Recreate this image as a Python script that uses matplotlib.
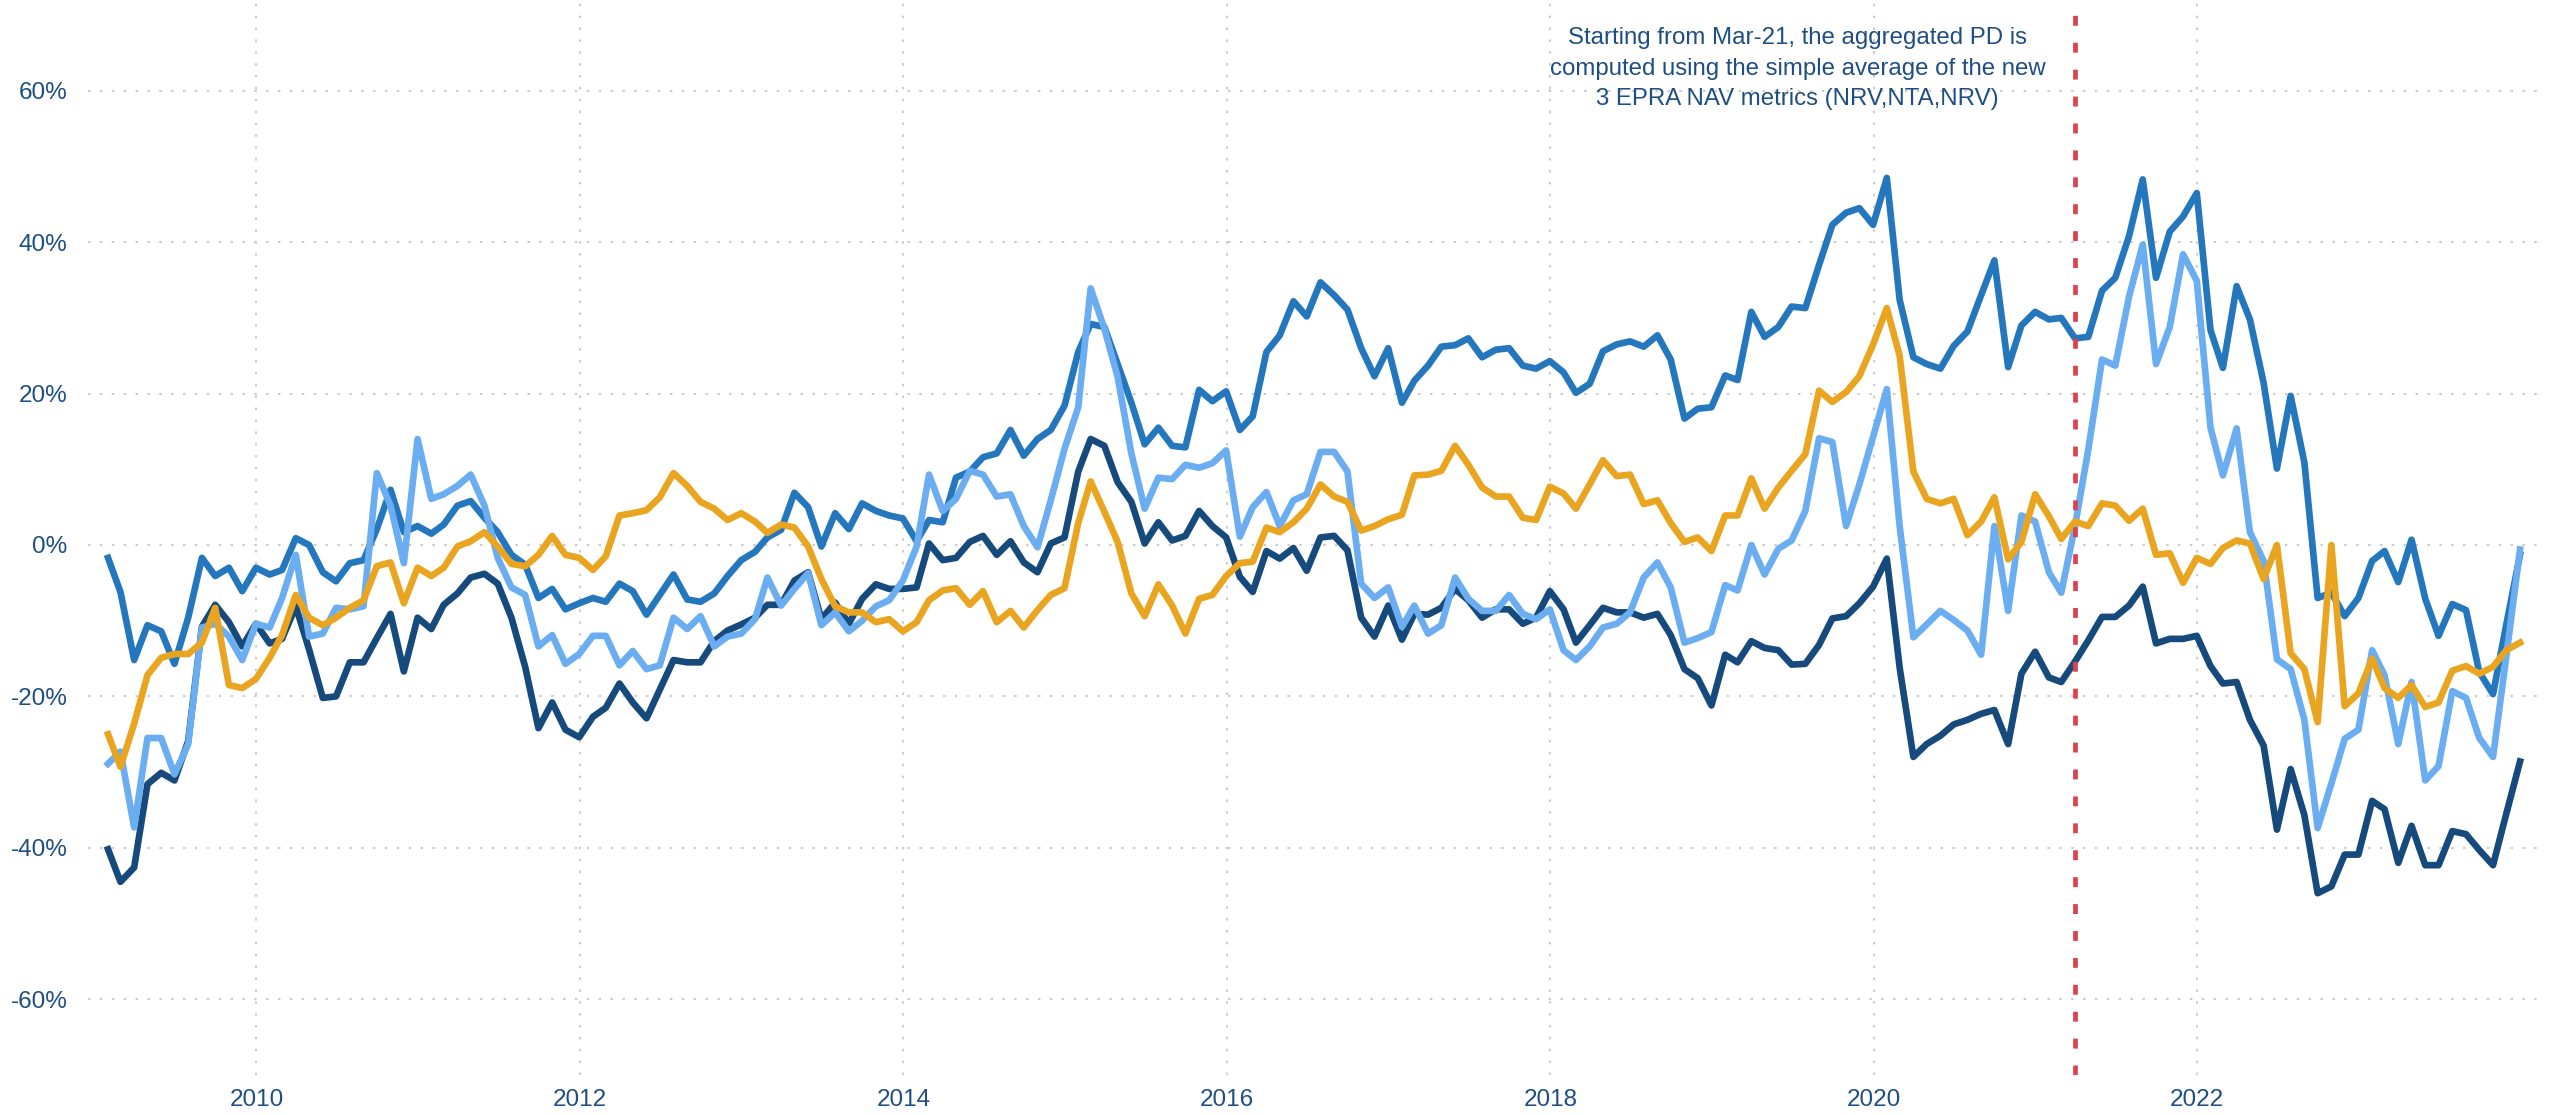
import numpy as np
import pandas as pd
import matplotlib
matplotlib.use('Agg')
import matplotlib.pyplot as plt
import matplotlib.dates as mdates
from matplotlib.ticker import FuncFormatter

# datas mensais (fim de mes) jan-2009 ate dez-2023
datas = pd.date_range('2009-01-31', periods=180, freq='ME')

# premio/desconto agregado (%) - 4 series
serie_azul = [-1.7, -6.2, -15.2, -10.6, -11.4, -15.7, -9.6, -1.7, -4.1, -3.0,
              -6.1, -3.0, -3.9, -3.3, 0.9, 0.0, -3.6, -4.8, -2.4, -2.0,
              2.1, 7.3, 1.7, 2.5, 1.5, 2.7, 5.2, 5.8, 3.6, 1.7, -1.3,
              -2.6, -7.0, -5.8, -8.5, -7.7, -7.0, -7.5, -5.1, -6.1, -9.2,
              -6.6, -3.9, -7.2, -7.5, -6.4, -4.1, -2.0, -0.9, 1.0, 2.0,
              6.9, 5.0, -0.2, 4.2, 2.1, 5.5, 4.5, 3.9, 3.5, 0.5, 3.3,
              3.0, 8.9, 9.7, 11.6, 12.1, 15.2, 11.8, 14.0, 15.2, 18.4,
              25.5, 29.2, 28.8, 23.9, 18.8, 13.3, 15.5, 13.1, 12.9, 20.5,
              19.0, 20.3, 15.2, 17.0, 25.5, 27.7, 32.2, 30.2, 34.7, 33.0, 31.1,
              26.0, 22.3, 26.0, 18.8, 21.7, 23.7, 26.2, 26.4, 27.3, 24.8,
              25.8, 26.0, 23.7, 23.3, 24.3, 22.8, 20.1, 21.3, 25.6, 26.5,
              26.9, 26.2, 27.7, 24.5, 16.7, 18.0, 18.2, 22.4, 21.8, 30.8, 27.5, 28.8,
              31.5, 31.3, 37.0, 42.3, 43.9, 44.5, 42.3, 48.5, 32.4, 24.8,
              23.9, 23.3, 26.3, 28.2, 33.0, 37.6, 23.5, 29.0, 30.8, 29.8,
              30.0, 27.3, 27.5, 33.6, 35.3, 40.8, 48.3, 35.3, 41.4, 43.4, 46.5,
              28.4, 23.4, 34.2, 29.8, 21.4, 10.1, 19.7, 10.9, -7.0, -6.3,
              -9.4, -7.0, -2.1, -0.8, -4.9, 0.7, -7.1, -12.0, -7.8, -8.6,
              -16.8, -19.7, -10.5, -1.3]

serie_clara = [-28.9, -27.3, -37.3, -25.5, -25.5, -30.3, -26.3, -10.9, -10.4, -12.1,
               -15.2, -10.4, -10.9, -7.0, -1.3, -12.1, -11.7, -8.3, -8.5, -8.1,
               9.5, 5.2, -2.4, 14.0, 6.1, 6.7, 7.8, 9.3, 5.2, -1.7, -5.6,
               -6.6, -13.4, -11.9, -15.7, -14.4, -12.0, -12.0, -15.9, -14.0, -16.4,
               -15.9, -9.6, -11.1, -9.4, -13.4, -12.1, -11.7, -9.8, -4.3, -8.0,
               -5.8, -3.7, -10.6, -8.9, -11.4, -10.0, -8.1, -7.3, -4.7, -0.2, 9.3,
               4.5, 6.1, 9.8, 9.3, 6.4, 6.7, 2.5, -0.3, 5.9, 12.7,
               18.2, 33.9, 28.6, 22.2, 12.1, 4.8, 8.9, 8.7, 10.6, 10.2,
               10.8, 12.5, 1.1, 5.0, 7.0, 2.5, 5.9, 6.7, 12.3, 12.3, 9.7,
               -5.1, -7.0, -5.6, -10.8, -8.0, -11.7, -10.6, -4.3, -7.1, -8.7,
               -8.7, -6.6, -9.1, -9.8, -8.5, -13.9, -15.2, -13.4, -10.9, -10.4,
               -8.9, -4.3, -2.3, -5.6, -12.9, -12.3, -11.5, -5.3, -6.0, 0.0, -3.9, -0.5,
               0.6, 4.5, 14.1, 13.6, 2.5, 8.0, 14.3, 20.6, 2.5, -12.2,
               -10.5, -8.7, -9.9, -11.3, -14.5, 2.5, -8.7, 3.9, 3.1, -3.6,
               -6.3, 2.5, 12.6, 24.5, 23.7, 32.8, 39.7, 23.9, 28.8, 38.4, 34.9,
               15.5, 9.2, 15.4, 1.7, -2.1, -15.1, -16.4, -23.1, -37.4, -31.5,
               -25.6, -24.4, -13.9, -17.2, -26.3, -18.1, -31.1, -29.2, -19.3, -20.2,
               -25.5, -28.0, -14.7, -0.6]

serie_escura = [-40.2, -44.5, -42.6, -31.6, -30.1, -31.1, -25.9, -10.8, -7.9, -10.2,
                -13.4, -10.4, -13.0, -12.4, -8.1, -13.8, -20.2, -20.0, -15.5, -15.5,
                -12.3, -9.1, -16.7, -9.6, -11.1, -7.9, -6.4, -4.3, -3.8, -5.1, -9.6,
                -16.1, -24.2, -20.8, -24.4, -25.4, -22.7, -21.5, -18.3, -20.8, -22.9,
                -19.1, -15.2, -15.5, -15.5, -12.7, -11.3, -10.5, -9.6, -7.9, -7.9,
                -4.7, -3.6, -9.8, -7.6, -10.4, -7.1, -5.2, -5.8, -5.8, -5.6, 0.2,
                -2.0, -1.7, 0.4, 1.2, -1.3, 0.5, -2.3, -3.6, 0.2, 1.0,
                9.7, 14.0, 13.1, 8.3, 5.7, 0.2, 3.0, 0.6, 1.2, 4.5,
                2.5, 1.0, -4.2, -6.2, -0.8, -1.8, -0.4, -3.4, 1.0, 1.2, -0.7,
                -9.6, -12.1, -8.0, -12.5, -9.1, -9.2, -8.3, -5.8, -7.3, -9.6,
                -8.5, -8.5, -10.4, -9.6, -6.1, -8.5, -12.9, -10.6, -8.3, -8.9,
                -8.9, -9.6, -9.1, -11.9, -16.4, -17.6, -21.2, -14.5, -15.5, -12.7, -13.6, -13.9,
                -15.8, -15.7, -13.2, -9.7, -9.4, -7.7, -5.5, -1.8, -16.2, -28.0,
                -26.3, -25.2, -23.7, -23.1, -22.3, -21.8, -26.3, -17.0, -14.1, -17.5,
                -18.1, -15.4, -12.6, -9.5, -9.5, -8.0, -5.5, -13.0, -12.4, -12.4, -12.0,
                -16.0, -18.3, -18.1, -23.1, -26.5, -37.6, -29.6, -35.7, -46.0, -45.1,
                -40.9, -40.9, -33.8, -34.9, -42.0, -37.1, -42.3, -42.3, -37.8, -38.2,
                -40.3, -42.3, -35.5, -28.6]

serie_laranja = [-25.0, -29.3, -23.6, -17.2, -14.9, -14.4, -14.4, -12.9, -8.3, -18.5,
                 -18.9, -17.7, -14.9, -11.9, -6.6, -9.6, -10.6, -9.6, -8.3, -7.3,
                 -2.8, -2.3, -7.7, -3.0, -4.1, -3.0, -0.2, 0.5, 1.7, -0.2, -2.5,
                 -2.8, -1.3, 1.2, -1.3, -1.7, -3.3, -1.5, 3.9, 4.2, 4.6,
                 6.3, 9.5, 7.8, 5.7, 4.8, 3.3, 4.2, 3.1, 1.6, 2.7,
                 2.3, -0.2, -4.5, -8.1, -8.9, -8.9, -10.2, -9.8, -11.4, -10.2, -7.3,
                 -6.0, -5.7, -7.9, -6.1, -10.2, -8.7, -10.9, -8.6, -6.6, -5.7,
                 2.9, 8.4, 4.4, 0.4, -6.4, -9.4, -5.2, -8.0, -11.7, -7.1,
                 -6.6, -4.1, -2.4, -2.2, 2.3, 1.7, 3.0, 4.8, 8.0, 6.4, 5.7,
                 1.9, 2.5, 3.4, 4.0, 9.2, 9.3, 9.8, 13.1, 10.6, 7.6,
                 6.4, 6.4, 3.6, 3.3, 7.7, 6.8, 4.8, 8.0, 11.2, 9.1,
                 9.3, 5.4, 5.9, 2.9, 0.4, 1.0, -0.8, 3.9, 3.9, 8.8, 4.8, 7.6,
                 9.8, 12.0, 20.4, 18.9, 20.2, 22.3, 26.5, 31.3, 25.0, 9.7,
                 6.1, 5.5, 6.1, 1.3, 3.1, 6.3, -1.9, 0.4, 6.7, 3.8,
                 0.8, 3.1, 2.5, 5.5, 5.2, 3.2, 4.8, -1.3, -1.1, -5.0, -1.7,
                 -2.5, -0.4, 0.6, 0.2, -4.5, 0.0, -14.3, -16.4, -23.4, 0.0,
                 -21.3, -19.6, -15.0, -18.9, -20.2, -18.5, -21.4, -20.8, -16.6, -16.0,
                 -17.0, -16.1, -13.9, -12.9]

anos_ticks = [2010, 2012, 2014, 2016, 2018, 2020, 2022]
y_ticks = [-60, -40, -20, 0, 20, 40, 60]
data_corte = '2021-03-31'
texto_nota = ('Starting from Mar-21, the aggregated PD is\n'
              'computed using the simple average of the new\n'
              '3 EPRA NAV metrics (NRV,NTA,NRV)')

cor_texto = '#1f4e83'
plt.rcParams['font.family'] = ['Liberation Sans', 'DejaVu Sans']

fig = plt.figure(figsize=(25.54, 11.15), dpi=100)
ax = fig.add_axes([0.0345, 0.036, 0.96, 0.964])

# linhas
ax.plot(datas, serie_escura, color='#174a7c', lw=4.8, solid_joinstyle='round', zorder=3)
ax.plot(datas, serie_azul, color='#2577bd', lw=4.8, solid_joinstyle='round', zorder=4)
ax.plot(datas, serie_clara, color='#6aadf0', lw=4.8, solid_joinstyle='round', zorder=5)
ax.plot(datas, serie_laranja, color='#eaa520', lw=4.8, solid_joinstyle='round', zorder=6)

# linha vermelha da mudanca de metodologia
ax.axvline(pd.Timestamp(data_corte), color='#dc424e', lw=3.4, linestyle=(0, (2.1, 3.6)), zorder=7)
ax.text(pd.Timestamp('2019-07-14'), 0.936, texto_nota, transform=ax.get_xaxis_transform(),
        ha='center', va='center', fontsize=17.3, color=cor_texto, linespacing=1.5)

ax.set_xlim(pd.Timestamp('2008-12-17'), pd.Timestamp('2024-02-14'))
ax.set_ylim(-70, 72)
ax.set_xticks([pd.Timestamp(f'{a}-01-01') for a in anos_ticks])
ax.xaxis.set_major_formatter(mdates.DateFormatter('%Y'))
ax.set_yticks(y_ticks)
ax.yaxis.set_major_formatter(FuncFormatter(lambda v, p: f'{v:.0f}%'))

ax.grid(True, color='#cccccc', lw=1.5, linestyle=(0, (1.2, 4.5)))
ax.set_axisbelow(True)
for s in ax.spines.values():
    s.set_visible(False)
ax.tick_params(length=0, labelsize=17.5, labelcolor=cor_texto)
ax.tick_params(axis='y', pad=15)
ax.tick_params(axis='x', pad=10)

fig.savefig('out.png', dpi=100)
